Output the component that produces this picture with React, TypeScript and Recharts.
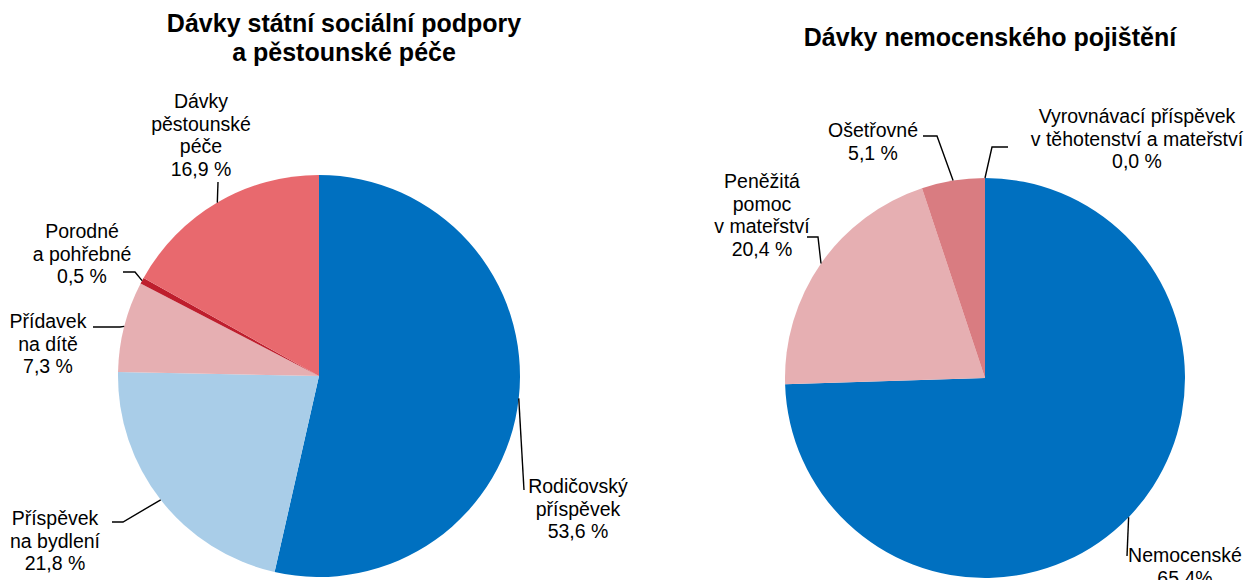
import { Cell, Pie, PieChart } from "recharts";

// Dávky státní sociální podpory a pěstounské péče
const sspNames = ["Rodičovský\npříspěvek", "Příspěvek\nna bydlení", "Přídavek\nna dítě", "Porodné\na pohřebné", "Dávky\npěstounské\npéče"];
const sspValues = [53.6, 21.8, 7.3, 0.5, 16.9];
const sspLabels = ["53,6 %", "21,8 %", "7,3 %", "0,5 %", "16,9 %"];

// Dávky nemocenského pojištění (slice sizes as drawn; label text as printed)
const nemNames = ["Nemocenské", "Peněžitá\npomoc\nv mateřství", "Ošetřovné", "Vyrovnávací příspěvek\nv těhotenství a mateřství"];
const nemValues = [74.5, 20.4, 5.1, 0.0];
const nemLabels = ["65,4%", "20,4 %", "5,1 %", "0,0 %"];

const sspColors = ["#0070C0", "#A9CDE8", "#E6AFB2", "#BE1E2D", "#E8696E"];
const nemColors = ["#0070C0", "#E6AFB2", "#D97C81", "#C0504D"];

const sspData = sspNames.map((name, i) => ({ name, value: sspValues[i], label: sspLabels[i] }));
const nemData = nemNames.map((name, i) => ({ name, value: nemValues[i], label: nemLabels[i] }));

type LabelPos = { pts: number[][]; x: number; y: number };

const SSP_LAYOUT: LabelPos[] = [
  { pts: [[524, 490]], x: 578, y: 493 },
  { pts: [[123, 522], [112, 522]], x: 55, y: 525 },
  { pts: [[120, 327], [93, 327]], x: 48, y: 328 },
  { pts: [[135, 272], [123, 272]], x: 82, y: 238 },
  { pts: [[218, 182]], x: 201, y: 108 },
];

const NEM_LAYOUT: LabelPos[] = [
  { pts: [[1127, 556]], x: 1185, y: 562 },
  { pts: [[818, 237], [807, 237]], x: 762, y: 188 },
  { pts: [[937, 136], [923, 136]], x: 873, y: 137 },
  { pts: [[992, 147], [1008, 147]], x: 1137, y: 123 },
];

const FONT = "'Liberation Sans', Arial, sans-serif";
const RAD = Math.PI / 180;

function makeLabel(layout: LabelPos[]) {
  return (props: any) => {
    const { cx, cy, midAngle, outerRadius, index, payload } = props;
    const pos = layout[index];
    if (!pos) return null;
    const ax = cx + outerRadius * Math.cos(-midAngle * RAD);
    const ay = cy + outerRadius * Math.sin(-midAngle * RAD);
    const path = [[ax, ay], ...pos.pts].map((p, i) => `${i ? "L" : "M"}${p[0]},${p[1]}`).join(" ");
    const lines = [...String(payload.name).split("\n"), payload.label];
    return (
      <g key={`l-${index}`}>
        <path d={path} stroke="#000" strokeWidth={1.4} fill="none" />
        <text x={pos.x} y={pos.y} textAnchor="middle" fontFamily={FONT} fontSize={19.5} fill="#000">
          {lines.map((t, i) => (
            <tspan key={i} x={pos.x} dy={i ? 22.5 : 0}>
              {t}
            </tspan>
          ))}
        </text>
      </g>
    );
  };
}

const titleStyle = {
  position: "absolute" as const,
  fontFamily: FONT,
  fontWeight: 700,
  fontSize: 25,
  lineHeight: "29px",
  textAlign: "center" as const,
  color: "#000",
  whiteSpace: "nowrap" as const,
};

export default function App() {
  return (
    <div style={{ position: "absolute", left: 0, top: 0, width: 1247, height: 580, background: "#fff", overflow: "hidden" }}>
      <div style={{ ...titleStyle, left: 144, width: 400, top: 9 }}>
        Dávky státní sociální podpory
        <br />a pěstounské péče
      </div>
      <div style={{ ...titleStyle, left: 790, width: 400, top: 23 }}>Dávky nemocenského pojištění</div>
      <div style={{ position: "absolute", left: 0, top: 0 }}>
        <PieChart width={1247} height={580} margin={{ top: 0, right: 0, bottom: 0, left: 0 }}>
          <Pie
            data={sspData}
            dataKey="value"
            nameKey="name"
            cx={319}
            cy={376}
            outerRadius={201}
            startAngle={90}
            endAngle={-270}
            stroke="none"
            labelLine={false}
            label={makeLabel(SSP_LAYOUT)}
            isAnimationActive={false}
          >
            {sspData.map((d, i) => (
              <Cell key={d.name} fill={sspColors[i]} />
            ))}
          </Pie>
          <Pie
            data={nemData}
            dataKey="value"
            nameKey="name"
            cx={985}
            cy={378}
            outerRadius={200}
            startAngle={90}
            endAngle={-270}
            stroke="none"
            labelLine={false}
            label={makeLabel(NEM_LAYOUT)}
            isAnimationActive={false}
          >
            {nemData.map((d, i) => (
              <Cell key={d.name} fill={nemColors[i]} />
            ))}
          </Pie>
        </PieChart>
      </div>
    </div>
  );
}
